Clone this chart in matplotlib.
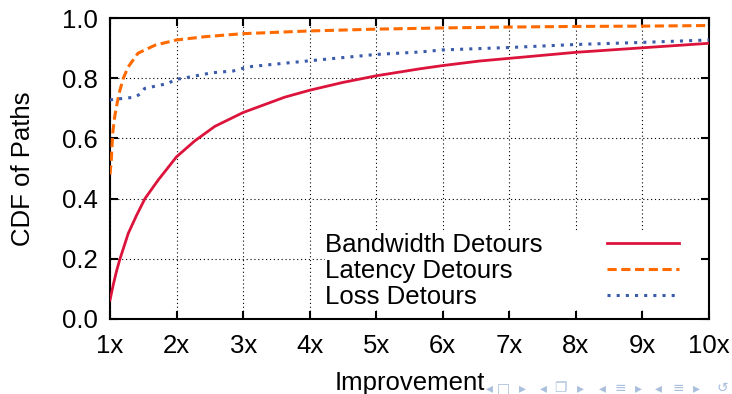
import matplotlib
matplotlib.use("Agg")
import matplotlib.pyplot as plt
from matplotlib.patches import Rectangle

# values (improvement factor -> CDF)
bw_x = [1.0, 1.05, 1.1, 1.15, 1.275, 1.4, 1.525, 1.725, 2.0, 2.275, 2.575, 3.0,
        3.625, 4.0, 4.5, 5.0, 5.65, 6.0, 6.55, 7.0, 8.0, 9.0, 10.0]
bw_cdf = [0.063, 0.115, 0.161, 0.2, 0.285, 0.345, 0.40, 0.462, 0.539, 0.592, 0.640,
          0.686, 0.737, 0.76, 0.786, 0.808, 0.831, 0.842, 0.857, 0.866, 0.886, 0.901, 0.916]

lat_x = [1.0, 1.02, 1.04, 1.07, 1.11, 1.15, 1.2, 1.275, 1.42, 1.68, 2.0, 2.43,
         3.0, 4.0, 5.0, 6.0, 7.0, 8.0, 9.0, 10.0]
lat_cdf = [0.48, 0.53, 0.617, 0.672, 0.72, 0.761, 0.80, 0.838, 0.883, 0.910, 0.927,
           0.938, 0.948, 0.957, 0.963, 0.967, 0.970, 0.972, 0.973, 0.975]

loss_x = [1.0, 1.2, 1.375, 1.47, 1.52, 1.88, 1.975, 2.08, 2.53, 2.85, 3.0, 3.13,
          4.0, 5.0, 5.65, 6.0, 7.0, 8.0, 9.0, 10.0]
loss_cdf = [0.728, 0.733, 0.737, 0.750, 0.766, 0.783, 0.796, 0.799, 0.818, 0.824,
            0.833, 0.839, 0.858, 0.879, 0.887, 0.894, 0.902, 0.912, 0.919, 0.927]

x_ticks = [1, 2, 3, 4, 5, 6, 7, 8, 9, 10]
x_labels = [f"{t}x" for t in x_ticks]
y_ticks = [0.0, 0.2, 0.4, 0.6, 0.8, 1.0]
y_labels = [f"{t:.1f}" for t in y_ticks]

# beamer navigation symbols along the bottom edge
nav_syms = ["\u25c2", "\u25a1", "\u25b8", "\u25c2", "\u2750", "\u25b8",
            "\u25c2", "\u2261", "\u25b8", "\u25c2", "\u2261", "\u25b8", "\u21ba"]
nav_px = [489, 503, 522, 543, 560, 580, 602, 620, 638, 658, 678, 696, 722]

plt.rcParams["font.family"] = ["Liberation Sans", "DejaVu Sans"]
plt.rcParams["font.size"] = 18.5

W, H = 732, 394
fig = plt.figure(figsize=(W / 100, H / 100), dpi=100)
ax = fig.add_axes([0.1503, 0.1904, 0.8183, 0.7639])

lines = []
lines += ax.plot(bw_x, bw_cdf, color="#dc143c", lw=2.0, zorder=3)
lines += ax.plot(lat_x, lat_cdf, color="#ff6a00", lw=2.2, ls=(0, (3, 1.5)), zorder=3)
lines += ax.plot(loss_x, loss_cdf, color="#3b5bab", lw=2.2, ls=(0, (1, 2)), zorder=3)
labels = ["Bandwidth Detours", "Latency Detours", "Loss Detours"]

ax.set_xlim(1, 10)
ax.set_ylim(0, 1)
ax.set_xticks(x_ticks)
ax.set_xticklabels(x_labels)
ax.set_yticks(y_ticks)
ax.set_yticklabels(y_labels)
ax.tick_params(direction="in", length=6, width=1.5, top=True, right=True, pad=9)
ax.tick_params(axis="x", pad=11)
ax.grid(True, color="black", lw=0.8, ls=(0, (1, 2.5)))
for s in ax.spines.values():
    s.set_linewidth(1.5)

# opaque key area (hides grid like gnuplot's opaque key)
ax.add_patch(Rectangle((0.359, 0.03), 0.626, 0.266, transform=ax.transAxes,
                       facecolor="white", edgecolor="none", zorder=1.8))

key_opts = dict(loc="upper left", bbox_to_anchor=(0.359, 0.287), frameon=False,
                labelspacing=0.09, borderpad=0, borderaxespad=0)
# samples on the right, all in one column
key_lines = ax.legend(lines, labels, markerfirst=False, handlelength=2.8,
                      handletextpad=2.5, **key_opts)
for t in key_lines.get_texts():
    t.set_alpha(0)
ax.add_artist(key_lines)
# texts left aligned
key_text = ax.legend(lines, labels, handlelength=0, handletextpad=0,
                     alignment="left", **key_opts)
for h in key_text.legend_handles:
    h.set_visible(False)

ax.set_xlabel("Improvement", labelpad=9)
ax.set_ylabel("CDF of Paths", labelpad=19)

for sym, px in zip(nav_syms, nav_px):
    fig.text(px / W, 1 - 388 / H, sym, fontsize=10, color="#a9bfdc",
             family=["DejaVu Sans", "Noto Sans"], ha="center", va="center")

fig.savefig("out.png", dpi=100)
